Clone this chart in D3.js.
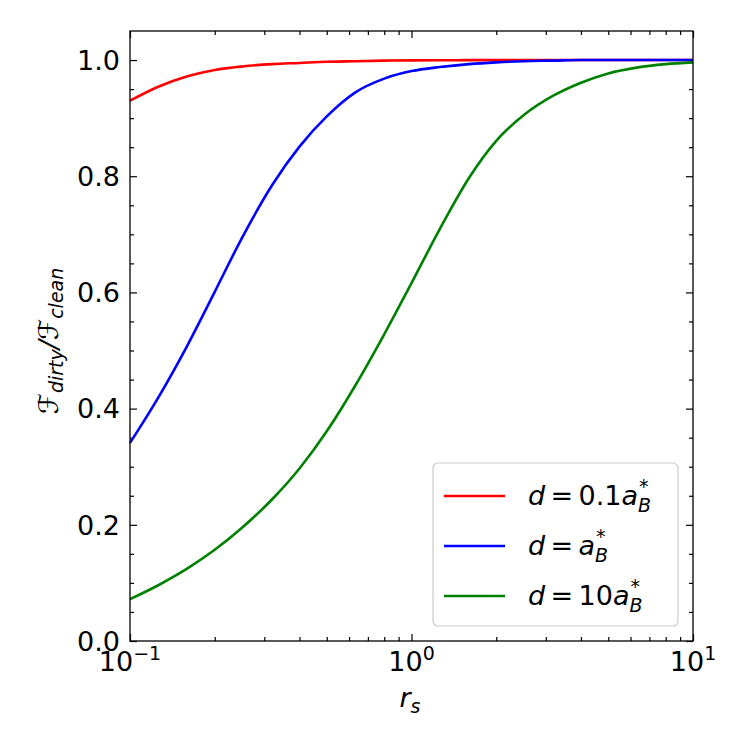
<!DOCTYPE html>
<html lang="en">

<head>
    <meta charset="UTF-8" />
    <title>Dirty / clean ratio vs r_s</title>
    <style>
        body { margin: 0; background: #fff; }
        svg text { font-family: 'DejaVu Sans', sans-serif; fill: #000; }
        .it { font-style: italic; }
    </style>
</head>

<body>
    <svg id="chart" width="750" height="750"></svg>

    <script src="https://cdn.jsdelivr.net/npm/d3@7"></script>
    <script>
        // values
        const rsValues = [0.1, 0.126, 0.16, 0.2, 0.25, 0.32, 0.4, 0.5, 0.63, 0.8, 1, 1.26, 1.6, 2, 2.5, 3.2, 4, 5, 6.3, 8, 10];
        const ratioTenth = [0.930, 0.954, 0.972, 0.983, 0.989, 0.993, 0.995, 0.997, 0.998, 0.999, 0.9995, 0.9997, 0.9998, 0.9999, 1, 1, 1, 1, 1, 1, 1];
        const ratioOne = [0.341, 0.419, 0.509, 0.601, 0.694, 0.785, 0.851, 0.903, 0.944, 0.968, 0.981, 0.988, 0.993, 0.996, 0.998, 0.999, 1, 1, 1, 1, 1];
        const ratioTen = [0.072, 0.096, 0.125, 0.157, 0.195, 0.244, 0.297, 0.361, 0.439, 0.528, 0.616, 0.709, 0.797, 0.861, 0.905, 0.939, 0.961, 0.977, 0.987, 0.993, 0.996];
        const seriesColors = ['#ff0000', '#0000ff', '#008000'];
        const legendCoeffs = ['0.1', '', '10'];
        const yTicks = [0, 0.2, 0.4, 0.6, 0.8, 1.0];
        const xTickExps = [-1, 0, 1];

        const series = [ratioTenth, ratioOne, ratioTen].map((vals, i) => ({
            color: seriesColors[i],
            coeff: legendCoeffs[i],
            points: rsValues.map((r, j) => ({ r, v: vals[j] }))
        }));

        const margin = { top: 31, right: 57, bottom: 109, left: 130 };
        const width = 750, height = 750;
        const svg = d3.select('#chart');

        const x = d3.scaleLog().domain([0.1, 10]).range([margin.left, width - margin.right]);
        const y = d3.scaleLinear().domain([0, 1.05]).range([height - margin.bottom, margin.top]);

        const minorX = [];
        [0.1, 1].forEach(dec => d3.range(2, 10).forEach(k => minorX.push(dec * k)));
        const minorY = d3.range(0, 1.05, 0.05).map(v => +v.toFixed(2)).filter(v => !yTicks.some(t => Math.abs(t - v) < 1e-6));

        const bottom = height - margin.bottom;
        const right = width - margin.right;

        function tickAxis(axis, ticks, size) {
            return axis.tickValues(ticks).tickSize(-size).tickFormat('').tickPadding(0);
        }

        // inward ticks on all four sides: major 7px, minor 4px
        const sides = [
            [() => d3.axisBottom(x), `translate(0,${bottom})`, true],
            [() => d3.axisTop(x), `translate(0,${margin.top})`, true],
            [() => d3.axisLeft(y), `translate(${margin.left},0)`, false],
            [() => d3.axisRight(y), `translate(${right},0)`, false]
        ];
        sides.forEach(([mk, tr, isX]) => {
            svg.append('g').attr('transform', tr)
                .call(tickAxis(mk(), isX ? xTickExps.map(e => Math.pow(10, e)) : yTicks, 7))
                .call(g => g.select('.domain').remove());
            svg.append('g').attr('transform', tr)
                .call(tickAxis(mk(), isX ? minorX : minorY, 4))
                .call(g => g.select('.domain').remove());
        });
        svg.selectAll('.tick line').attr('stroke', '#000').attr('stroke-width', 1.2);

        // curves
        const line = d3.line()
            .x(d => x(d.r))
            .y(d => y(d.v))
            .curve(d3.curveMonotoneX);

        svg.append('g').selectAll('path')
            .data(series)
            .join('path')
            .attr('d', d => line(d.points))
            .attr('fill', 'none')
            .attr('stroke', d => d.color)
            .attr('stroke-width', 2.6);

        // frame
        svg.append('rect')
            .attr('x', margin.left).attr('y', margin.top)
            .attr('width', right - margin.left).attr('height', bottom - margin.top)
            .attr('fill', 'none').attr('stroke', '#000').attr('stroke-width', 1.3);

        // y tick labels
        svg.append('g').selectAll('text')
            .data(yTicks)
            .join('text')
            .attr('x', margin.left - 10)
            .attr('y', d => y(d))
            .attr('dy', '0.36em')
            .attr('text-anchor', 'end')
            .style('font-size', '27px')
            .text(d => d.toFixed(1));

        // x tick labels 10^n
        const xl = svg.append('g').selectAll('text')
            .data(xTickExps)
            .join('text')
            .attr('x', d => x(Math.pow(10, d)))
            .attr('y', 671)
            .attr('text-anchor', 'middle')
            .style('font-size', '27px');
        xl.append('tspan').text('10');
        xl.append('tspan').attr('dy', -11).style('font-size', '19px')
            .text(d => d < 0 ? '\u2212' + Math.abs(d) : String(d));

        // axis labels
        const xlab = svg.append('text')
            .attr('x', 410).attr('y', 707)
            .attr('text-anchor', 'middle')
            .style('font-size', '27px');
        xlab.append('tspan').attr('class', 'it').text('r');
        xlab.append('tspan').attr('class', 'it').attr('dy', 6).style('font-size', '19px').text('s');

        const ylab = svg.append('text')
            .attr('transform', `translate(58,341) rotate(-90)`)
            .attr('text-anchor', 'middle')
            .style('font-size', '27px');
        ylab.append('tspan').attr('class', 'it').text('\u2131');
        ylab.append('tspan').attr('class', 'it').attr('dy', 5).style('font-size', '19px').text('dirty');
        ylab.append('tspan').attr('class', 'it').attr('dy', -5).text('/\u2131');
        ylab.append('tspan').attr('class', 'it').attr('dy', 5).style('font-size', '19px').text('clean');

        // legend
        const legend = svg.append('g');
        legend.append('rect')
            .attr('x', 433).attr('y', 463)
            .attr('width', 245).attr('height', 163)
            .attr('rx', 5)
            .attr('fill', '#fff').attr('fill-opacity', 0.8)
            .attr('stroke', '#cccccc').attr('stroke-width', 1.2);

        const rowY = d3.scalePoint().domain(d3.range(series.length)).range([496, 596]);
        const rows = legend.selectAll('g.row')
            .data(series)
            .join('g')
            .attr('class', 'row')
            .attr('transform', (d, i) => `translate(0,${rowY(i)})`);
        rows.append('line')
            .attr('x1', 444).attr('x2', 505)
            .attr('stroke', d => d.color).attr('stroke-width', 2.6);
        const lt = rows.append('text')
            .attr('x', 528).attr('y', 9)
            .style('font-size', '27px');
        lt.append('tspan').attr('class', 'it').text('d');
        lt.append('tspan').text(d => '\u2009=\u2009' + d.coeff);
        lt.append('tspan').attr('class', 'it').text('a');
        const sub = lt.append('tspan').attr('class', 'it').attr('dy', 7).style('font-size', '19px').text('B');
        const sup = lt.append('tspan').attr('dy', -19).style('font-size', '19px').text('*');
        sub.each(function (d, i) {
            const w = this.getComputedTextLength();
            d3.select(sup.nodes()[i]).attr('dx', -w + 1);
        });
    </script>
</body>

</html>
